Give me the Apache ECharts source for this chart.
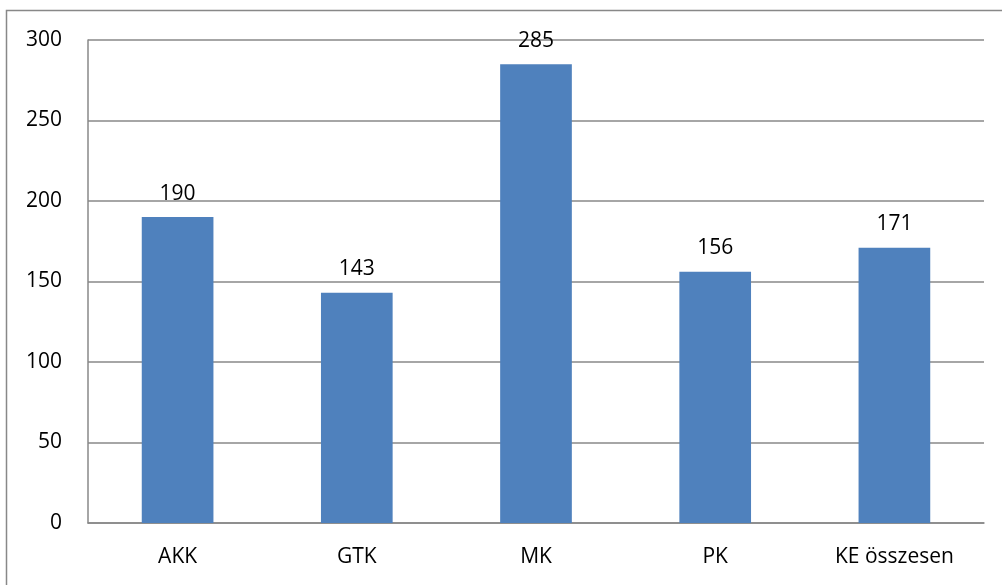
<!DOCTYPE html>
<html>
<head>
<meta charset="utf-8">
<style>
    html, body { margin: 0; padding: 0; background: #fff; }
    #chart { width: 1002px; height: 585px; }
</style>
<script src="https://cdn.jsdelivr.net/npm/echarts@6/dist/echarts.min.js"></script>
</head>
<body>
<div id="chart"></div>
<script>
const categories = ['AKK', 'GTK', 'MK', 'PK', 'KE összesen'];
const values = [190, 143, 285, 156, 171];

const chart = echarts.init(document.getElementById('chart'));

const font = 'Open Sans, Noto Sans, sans-serif';

const option = {
    animation: false,
    graphic: [
        {
            type: 'rect',
            shape: { x: 6.5, y: 10.5, width: 1010, height: 600 },
            style: { fill: 'none', stroke: '#888', lineWidth: 1.5 },
            silent: true
        }
    ],
    grid: {
        left: 88,
        right: 18,
        top: 40,
        bottom: 62
    },
    xAxis: {
        type: 'category',
        data: categories,
        axisLine: { lineStyle: { color: '#888', width: 1.5 } },
        axisTick: { show: false },
        axisLabel: {
            color: '#000',
            fontSize: 21,
            fontFamily: font,
            margin: 24
        }
    },
    yAxis: {
        type: 'value',
        min: 0,
        max: 300,
        interval: 50,
        axisLine: { show: true, lineStyle: { color: '#888', width: 1.5 } },
        axisTick: { show: false },
        splitLine: { lineStyle: { color: '#888', width: 1.5 } },
        axisLabel: {
            color: '#000',
            fontSize: 21,
            fontFamily: font,
            margin: 26
        }
    },
    series: [
        {
            type: 'bar',
            data: values,
            barWidth: '40%',
            itemStyle: { color: '#4F81BD' },
            label: {
                show: true,
                position: 'top',
                distance: 13,
                color: '#000',
                fontSize: 21,
                fontFamily: font
            }
        }
    ]
};

chart.setOption(option);
</script>
</body>
</html>
